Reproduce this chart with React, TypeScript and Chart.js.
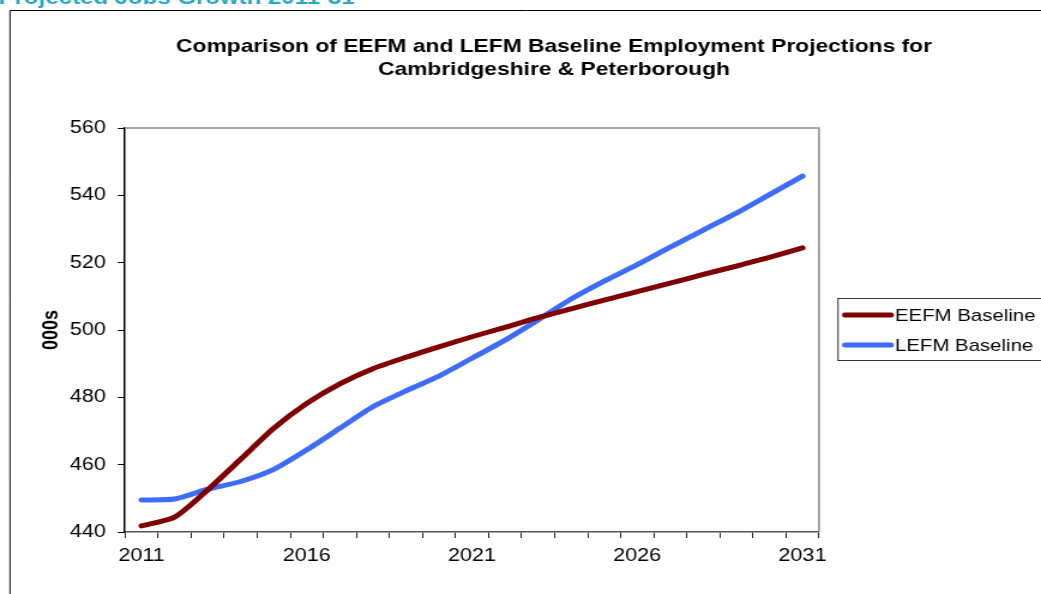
import React, { useEffect, useRef } from "react";
import { Chart, registerables } from "chart.js";

Chart.register(...registerables);

const years = [
  "2011", "2012", "2013", "2014", "2015", "2016", "2017", "2018", "2019", "2020",
  "2021", "2022", "2023", "2024", "2025", "2026", "2027", "2028", "2029", "2030", "2031",
];
const eefmBaseline = [
  441.8, 444.4, 452.5, 461.6, 470.8, 478.2, 484.0, 488.5, 491.9, 495.0,
  498.0, 500.8, 503.7, 506.3, 508.9, 511.4, 513.9, 516.5, 519.0, 521.6, 524.4,
];
const lefmBaseline = [
  449.5, 449.8, 452.7, 455.0, 458.6, 464.4, 470.8, 477.2, 481.9, 486.3,
  491.6, 497.0, 503.0, 509.2, 514.5, 519.4, 524.6, 529.7, 534.7, 540.2, 545.7,
];
const seriesNames = ["EEFM Baseline", "LEFM Baseline"];
const seriesColors = ["#800000", "#3D6CFF"];
const yMin = 440;
const yMax = 560;
const yStep = 20;
const titleLines = [
  "Comparison of EEFM and LEFM Baseline Employment Projections for",
  "Cambridgeshire & Peterborough",
];
const headingText = "Projected Jobs Growth 2011-31";
const yTitle = "000s";

const PAGE_W = 1041;
const PAGE_H = 594;
const STRETCH = 1.2;
const CW = Math.round(PAGE_W / STRETCH);
const sx = PAGE_W / CW;
const FAMILY = "'Liberation Sans', Arial, sans-serif";

const decorPlugin = {
  id: "decor",
  afterDraw(chart: any) {
    const ctx = chart.ctx as CanvasRenderingContext2D;
    const a = chart.chartArea;
    ctx.save();
    // plot area top/right border
    ctx.strokeStyle = "#8c8c8c";
    ctx.lineWidth = 1.5;
    ctx.beginPath();
    ctx.moveTo(a.left, a.top);
    ctx.lineTo(a.right, a.top);
    ctx.lineTo(a.right, a.bottom);
    ctx.stroke();

    // outer frame
    ctx.strokeStyle = "#000";
    ctx.lineWidth = 1;
    ctx.beginPath();
    ctx.moveTo(10 / sx, PAGE_H + 2);
    ctx.lineTo(10 / sx, 10.5);
    ctx.lineTo(CW + 2, 10.5);
    ctx.stroke();

    // heading (cut at top)
    ctx.fillStyle = "#2AA5CA";
    ctx.font = "bold 20px " + FAMILY;
    ctx.textAlign = "left";
    ctx.textBaseline = "alphabetic";
    ctx.fillText(headingText, -1, 4);

    // chart title
    ctx.fillStyle = "#000";
    ctx.font = "bold 19px " + FAMILY;
    ctx.textAlign = "center";
    ctx.fillText(titleLines[0], 554 / sx, 52);
    ctx.fillText(titleLines[1], 554 / sx, 75);

    // legend
    const lx = 838 / sx;
    const ly = 298.5;
    ctx.strokeStyle = "#333";
    ctx.lineWidth = 1;
    ctx.strokeRect(lx, ly, CW - lx + 5, 62);
    ctx.font = "17px " + FAMILY;
    ctx.textAlign = "left";
    ctx.textBaseline = "middle";
    chart.data.datasets.forEach((ds: any, i: number) => {
      const y = 315 + i * 30;
      ctx.strokeStyle = ds.borderColor;
      ctx.lineWidth = 5;
      ctx.lineCap = "round";
      ctx.beginPath();
      ctx.moveTo(845 / sx, y);
      ctx.lineTo(891 / sx, y);
      ctx.stroke();
      ctx.fillStyle = "#000";
      ctx.fillText(ds.label, 895 / sx, y + 1);
    });
    ctx.restore();
  },
};

export default function App() {
  const ref = useRef<HTMLCanvasElement>(null);
  useEffect(() => {
    if (!ref.current) return;
    const font = { family: FAMILY, size: 18 };
    const mkDs = (label: string, data: number[], color: string) => ({
      label,
      data,
      borderColor: color,
      backgroundColor: color,
      borderWidth: 5,
      pointRadius: 0,
      tension: 0.22,
      borderCapStyle: "round",
      borderJoinStyle: "round",
      fill: false,
    });
    const chart = new Chart(ref.current, {
      type: "line",
      data: {
        labels: years,
        datasets: [
          mkDs(seriesNames[0], eefmBaseline, seriesColors[0]),
          mkDs(seriesNames[1], lefmBaseline, seriesColors[1]),
        ],
      },
      options: {
        animation: false,
        responsive: false,
        devicePixelRatio: 1,
        layout: { padding: { left: 0, right: CW - 819 / sx, top: 128, bottom: 0 } },
        plugins: {
          legend: { display: false },
          tooltip: { enabled: false },
          title: { display: false },
        },
        scales: {
          x: {
            type: "category",
            offset: true,
            grid: {
              display: true,
              drawOnChartArea: false,
              drawTicks: true,
              tickLength: 6,
              offset: true,
              color: "#222",
              lineWidth: 1,
            },
            border: { display: true, color: "#555", width: 1.5 },
            ticks: {
              autoSkip: false,
              maxRotation: 0,
              minRotation: 0,
              padding: 7,
              color: "#000",
              font,
              callback: (_v: any, i: number) => (i % 5 === 0 ? years[i] : ""),
            },
            afterFit: (s: any) => {
              s.height = PAGE_H - 532;
            },
          },
          y: {
            min: yMin,
            max: yMax,
            ticks: { stepSize: yStep, padding: 10, color: "#000", font },
            grid: {
              drawOnChartArea: false,
              drawTicks: true,
              tickLength: 6,
              color: "#000",
            },
            border: { display: true, color: "#000", width: 1.5 },
            title: {
              display: true,
              text: yTitle,
              color: "#000",
              font: { family: FAMILY, size: 18, weight: "bold" },
              padding: { top: 32, bottom: 0 },
            },
            afterFit: (s: any) => {
              s.width = 125 / sx;
            },
          },
        },
      },
      plugins: [decorPlugin],
    } as any);
    return () => chart.destroy();
  }, []);

  return (
    <div style={{ position: "absolute", left: 0, top: 0, width: PAGE_W, height: PAGE_H, overflow: "hidden", background: "#fff" }}>
      <canvas
        ref={ref}
        width={CW}
        height={PAGE_H}
        style={{ display: "block", width: PAGE_W + "px", height: PAGE_H + "px" }}
      />
    </div>
  );
}
